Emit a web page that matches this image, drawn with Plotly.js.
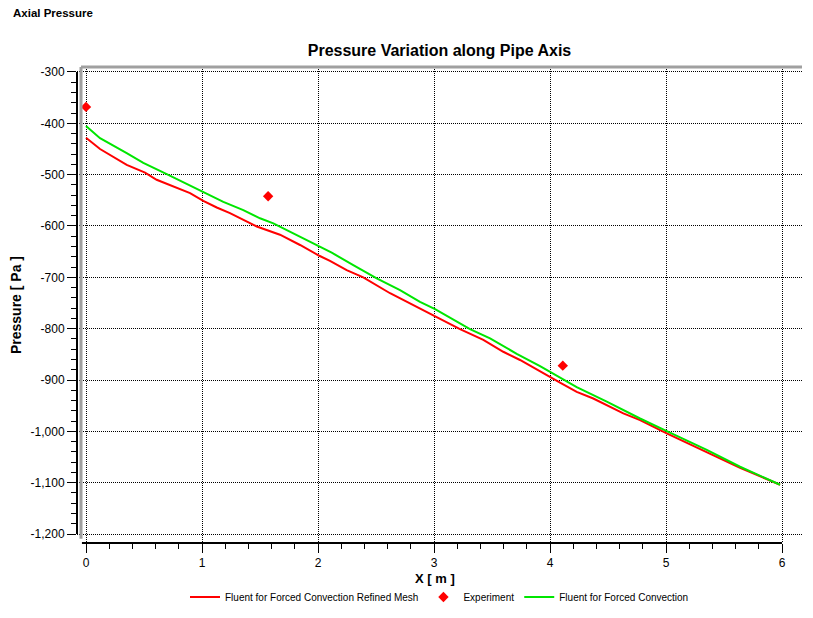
<!DOCTYPE html>
<html>
<head>
<meta charset="utf-8">
<script src="https://cdn.plot.ly/plotly-3.0.1.min.js"></script>
<style>
  html, body {margin: 0; padding: 0; background: #fff;}
  #graph {width: 813px; height: 618px;}
</style>
</head>
<body>
<div id="graph"></div>
<script>
//series
const refinedX = [0, 0.121, 0.351, 0.509, 0.609, 0.782, 0.897, 1.011, 1.127, 1.241, 1.472, 1.672, 1.845, 2.011, 2.103, 2.247, 2.39, 2.621, 2.735, 2.851, 3.009, 3.224, 3.425, 3.597, 3.741, 3.994, 4.086, 4.23, 4.373, 4.632, 4.776, 5.006, 5.351, 5.638, 5.983]
const refinedY = [-428, -450, -481, -496, -510, -525, -536, -551, -564, -575, -601, -617, -637, -658, -668, -686, -700, -731, -744, -758, -775, -801, -822, -845, -861, -894, -905, -923, -936, -965, -978, -1004, -1040, -1071, -1104]

const forcedX = [0, 0.121, 0.351, 0.494, 0.696, 1.011, 1.184, 1.356, 1.5, 1.615, 1.873, 2.011, 2.118, 2.304, 2.506, 2.707, 2.879, 3.009, 3.31, 3.483, 3.713, 3.914, 4.115, 4.23, 4.489, 4.776, 5.02, 5.351, 5.638, 5.983]
const forcedY = [-405, -429, -458, -477, -499, -533, -553, -569, -585, -595, -624, -640, -652, -676, -702, -725, -748, -762, -801, -819, -849, -873, -899, -914, -942, -975, -1001, -1036, -1069, -1104]

const experimentX = [0, 1.57, 4.11]
const experimentY = [-368, -542, -872]

//tick labels
const xTickVals = [0, 1, 2, 3, 4, 5, 6]
const xTickText = ['0', '1', '2', '3', '4', '5', '6']
const yTickVals = [-300, -400, -500, -600, -700, -800, -900, -1000, -1100, -1200]
const yTickText = ['-300', '-400', '-500', '-600', '-700', '-800', '-900', '-1,000', '-1,100', '-1,200']

const font = 'Liberation Sans, Arial, sans-serif'

//traces
const refined = {
  x: refinedX,
  y: refinedY,
  type: 'scatter',
  mode: 'lines',
  name: 'Fluent for Forced Convection Refined Mesh',
  line: {color: '#ff0000', width: 2}
}
const experiment = {
  x: experimentX,
  y: experimentY,
  type: 'scatter',
  mode: 'markers',
  name: 'Experiment',
  marker: {color: '#ff0000', symbol: 'diamond', size: 8}
}
const forced = {
  x: forcedX,
  y: forcedY,
  type: 'scatter',
  mode: 'lines',
  name: 'Fluent for Forced Convection',
  line: {color: '#00e600', width: 2}
}

const layout = {
  width: 813,
  height: 618,
  paper_bgcolor: '#fff',
  plot_bgcolor: '#fff',
  margin: {l: 77, r: 11, t: 67, b: 75, pad: 0},
  font: {family: font, size: 12, color: '#000'},
  title: {
    text: '<b>Pressure Variation along Pipe Axis</b>',
    font: {family: font, size: 16, color: '#000'},
    x: 0.5,
    xref: 'paper',
    y: 1 - 50 / 618,
    yanchor: 'middle'
  },
  showlegend: true,
  legend: {
    orientation: 'h',
    x: 0.5,
    xanchor: 'center',
    yref: 'container',
    y: 1 - 597 / 618,
    yanchor: 'middle',
    font: {family: font, size: 10, color: '#000'},
    itemwidth: 30
  },
  xaxis: {
    range: [-0.0776, 6.172],
    tickmode: 'array',
    tickvals: xTickVals,
    ticktext: xTickText,
    ticks: 'outside',
    ticklen: 9,
    tickcolor: '#000',
    tickfont: {family: font, size: 12},
    minor: {dtick: 0.2, tick0: 0, ticks: 'outside', ticklen: 5, tickcolor: '#000', showgrid: false},
    showgrid: true,
    gridcolor: '#000',
    griddash: '1px,1px',
    gridwidth: 1,
    zeroline: false,
    showline: false,
    automargin: false
  },
  yaxis: {
    title: {text: '<b>Pressure [ Pa ]</b>', font: {family: font, size: 14}, standoff: 5},
    range: [-1217.5, -290.3],
    tickmode: 'array',
    tickvals: yTickVals,
    ticktext: yTickText,
    ticks: 'outside',
    ticklen: 9,
    tickcolor: '#000',
    tickfont: {family: font, size: 12},
    minor: {dtick: 20, tick0: 0, ticks: 'outside', ticklen: 5, tickcolor: '#000', showgrid: false},
    showgrid: true,
    gridcolor: '#000',
    griddash: '1px,1px',
    gridwidth: 1,
    zeroline: false,
    showline: false,
    automargin: false
  },
  shapes: [
    //gray frame on left and top
    {type: 'line', xref: 'x', yref: 'paper', x0: -0.043, x1: -0.043, y0: 0.009, y1: 1, line: {color: '#a0a0a0', width: 3}},
    {type: 'line', xref: 'x', yref: 'paper', x0: -0.043, x1: 6.172, y0: 1, y1: 1, line: {color: '#a0a0a0', width: 3}},
    //black axis lines
    {type: 'line', xref: 'paper', yref: 'y', x0: 0, x1: 0, y0: -1200, y1: -300, line: {color: '#000', width: 2}},
    {type: 'line', xref: 'x', yref: 'paper', x0: -0.035, x1: 6, y0: 0, y1: 0, line: {color: '#000', width: 2}}
  ],
  annotations: [
    {
      text: '<b>Axial Pressure</b>',
      xref: 'paper', yref: 'paper',
      x: -66 / 725, y: 1 + 54 / 476,
      xanchor: 'left', yanchor: 'middle',
      showarrow: false,
      font: {family: font, size: 11.5, color: '#000'}
    },
    //x axis title
    {
      text: '<b>X [ m ]</b>',
      xref: 'paper', yref: 'paper',
      x: 0.494, y: -35 / 476,
      xanchor: 'center', yanchor: 'middle',
      showarrow: false,
      font: {family: font, size: 13, color: '#000'}
    }
  ]
}

const config = {displayModeBar: false, responsive: false}

Plotly.newPlot(document.getElementById('graph'), [refined, experiment, forced], layout, config)
</script>
</body>
</html>
